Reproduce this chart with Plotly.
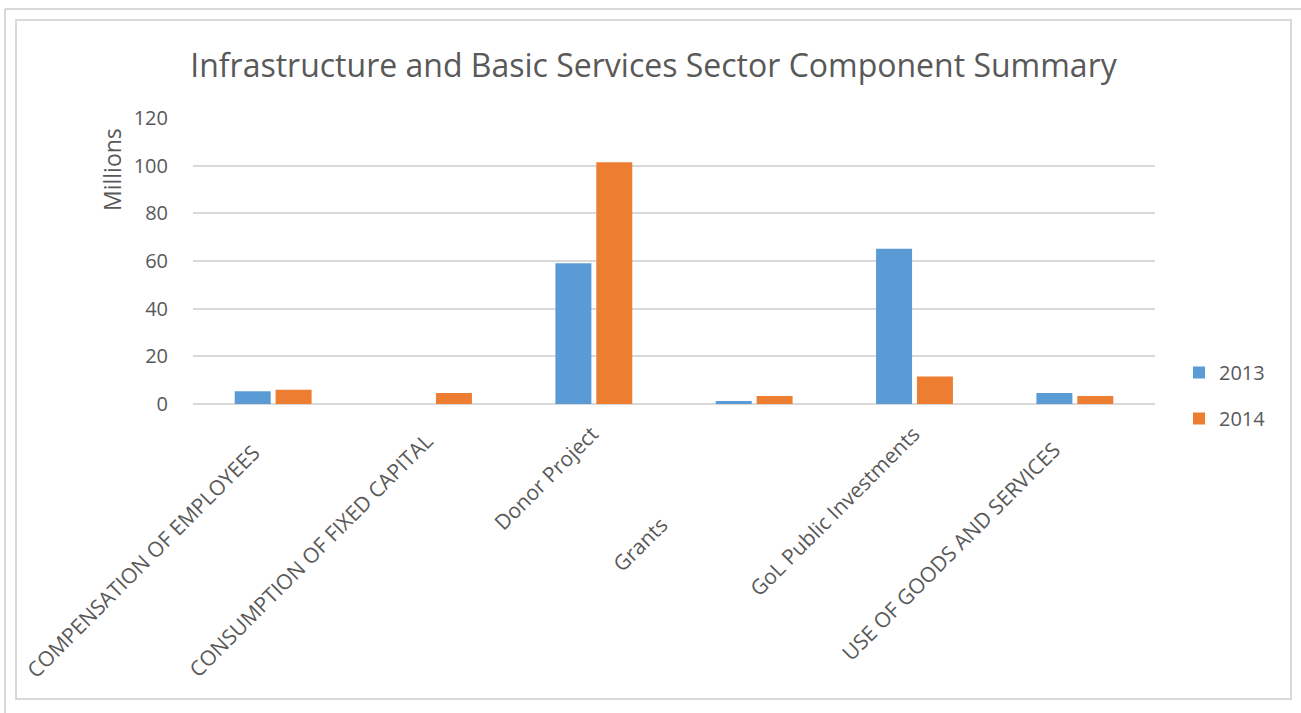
import plotly.graph_objects as go

categories = [
    "COMPENSATION OF EMPLOYEES",
    "CONSUMPTION OF FIXED CAPITAL",
    "Donor Project",
    "Grants",
    "GoL Public Investments",
    "USE OF GOODS AND SERVICES",
]
values_2013 = [5.3, 0.0, 59.1, 1.3, 65.1, 4.6]
values_2014 = [6.0, 4.6, 101.4, 3.4, 11.5, 3.4]
y_ticks = [0, 20, 40, 60, 80, 100, 120]

# placement of each slanted category label: horizontal shift from the
# category centre and vertical centre of the label, both in pixels
label_dx = [-130, -123, -48, -114, -80, -124]
label_cy = [561, 555, 478, 544, 511, 551]

TEXT = "#595959"
GRID = "#d9d9d9"
FONT = "Open Sans"

fig = go.Figure()
fig.add_trace(go.Bar(
    name="2013", x=categories, y=values_2013,
    marker=dict(color="#5B9BD5", line=dict(width=0)),
    legendgroup="a",
))
fig.add_trace(go.Bar(
    name="2014", x=categories, y=values_2014,
    marker=dict(color="#ED7D31", line=dict(width=0)),
    legendgroup="b",
))

W, H = 1301, 713
L, R, T, B = 193, 146, 118, 309
pw, ph = W - L - R, H - T - B

def px_x(x):
    return (x - L) / pw

def px_y(y):
    return (H - B - y) / ph

annotations = [dict(
    text="Millions", textangle=-90, showarrow=False,
    xref="paper", yref="paper", x=px_x(112), y=px_y(170),
    xanchor="center", yanchor="middle",
    font=dict(size=23, color=TEXT, family=FONT),
)]
for cat, dx, cy in zip(categories, label_dx, label_cy):
    annotations.append(dict(
        text=cat, textangle=-45, showarrow=False,
        xref="x", yref="paper", x=cat, y=px_y(cy), xshift=dx,
        xanchor="center", yanchor="middle",
        font=dict(size=21, color=TEXT, family=FONT),
    ))

fig.update_layout(
    width=W, height=H,
    margin=dict(l=L, r=R, t=T, b=B, autoexpand=False),
    paper_bgcolor="white", plot_bgcolor="white",
    font=dict(family=FONT, color=TEXT, size=20),
    title=dict(
        text="Infrastructure and Basic Services Sector Component Summary",
        xref="container", x=0.5023, xanchor="center",
        yref="container", y=1 - 66 / H, yanchor="middle",
        font=dict(size=32, color=TEXT, family=FONT),
    ),
    barmode="group", bargap=0.49, bargroupgap=0.12,
    xaxis=dict(
        range=[-0.5, len(categories) - 0.5], autorange=False,
        showticklabels=False, showgrid=False, showline=False, ticks="",
        automargin=False,
    ),
    yaxis=dict(
        range=[0, 120], tickvals=y_ticks, showgrid=True,
        gridcolor=GRID, gridwidth=2, zeroline=True, zerolinecolor=GRID,
        zerolinewidth=2, showline=False, ticks="outside", ticklen=20,
        tickcolor="rgba(0,0,0,0)", tickfont=dict(size=20, color=TEXT),
        automargin=False,
    ),
    legend=dict(
        x=px_x(1179), y=px_y(353), xanchor="left", yanchor="top",
        font=dict(size=20, color=TEXT), traceorder="grouped",
        tracegroupgap=17, bgcolor="rgba(0,0,0,0)",
    ),
    annotations=annotations,
    shapes=[
        dict(type="rect", xref="paper", yref="paper",
             x0=px_x(5), x1=px_x(1305), y0=px_y(720), y1=px_y(9),
             line=dict(color="#b0b0b0", width=1), layer="below"),
        dict(type="rect", xref="paper", yref="paper",
             x0=px_x(16), x1=px_x(1291), y0=px_y(699), y1=px_y(20),
             line=dict(color="#d9d9d9", width=2), layer="below"),
    ],
)

fig.write_html("out.html")
